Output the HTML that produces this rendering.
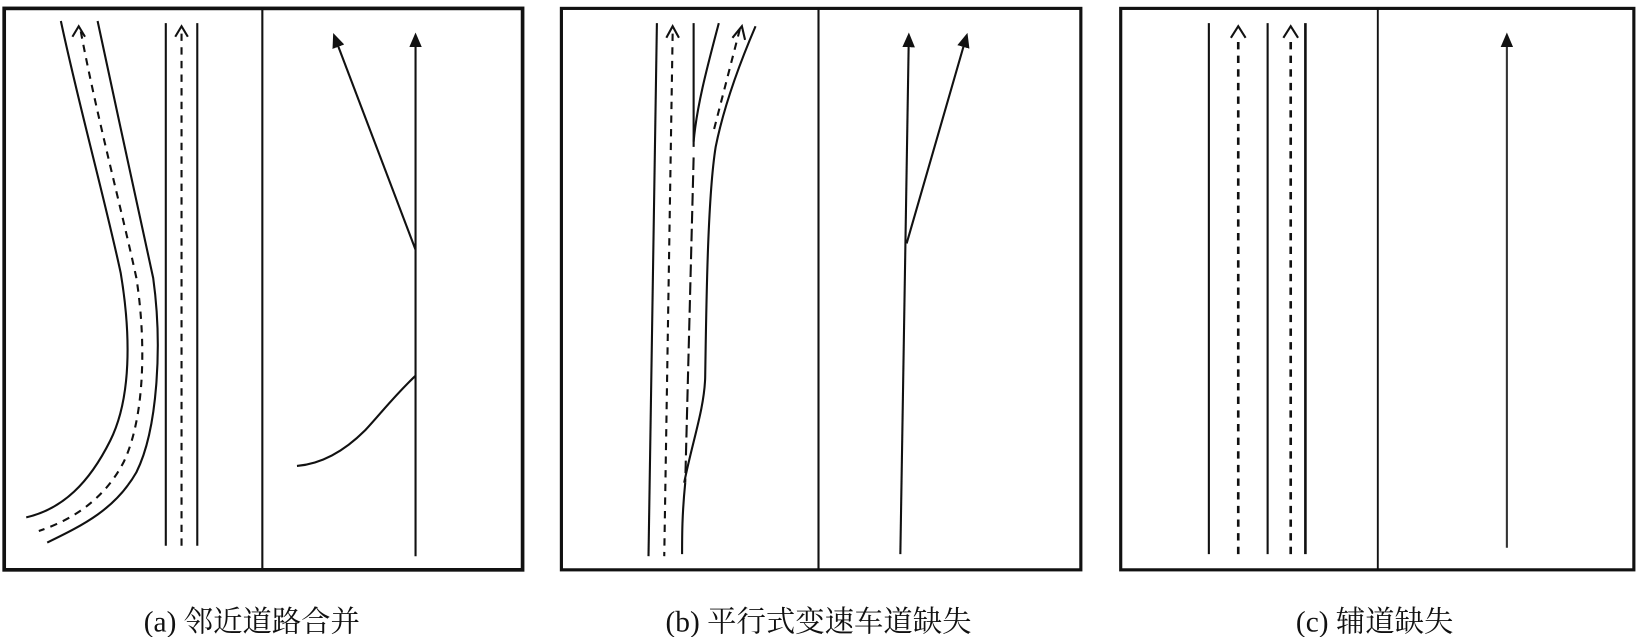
<!DOCTYPE html>
<html><head><meta charset="utf-8"><style>
html,body{margin:0;padding:0;background:#fff;width:1637px;height:637px;overflow:hidden}
svg{display:block}
text{font-family:"Liberation Serif","Noto Serif CJK SC",serif;font-size:28px;fill:#111}
</style></head><body>
<svg width="1637" height="637" viewBox="0 0 1560 607" preserveAspectRatio="none" xmlns="http://www.w3.org/2000/svg">
<defs>
<marker id="tri" markerWidth="14" markerHeight="12" refX="7" refY="6" orient="auto" markerUnits="userSpaceOnUse">
<path d="M0,0 L14,6 L0,12 Z" fill="#111"/></marker>
</defs>
<g fill="none" stroke="#111" stroke-width="2">
<!-- Panel a -->
<rect x="4" y="8" width="494" height="535" stroke-width="3.5"/>
<line x1="250" y1="8" x2="250" y2="543"/>
<path d="M58,20 C75,100 100,190 115,260 C125,320 125,380 105,420 C85,460 60,485 25,493"/>
<path d="M93,20 C110,100 132,200 146,265 C155,330 150,410 130,450 C110,485 80,500 45,517"/>
<path d="M77,30 C92,110 116,200 130,265 C140,330 137,400 118,440 C100,475 70,495 37,506" stroke-dasharray="7,6"/>
<path d="M69,35 L75,25 L81,35"/>
<line x1="158" y1="22" x2="158" y2="520"/>
<line x1="188" y1="22" x2="188" y2="520"/>
<line x1="173" y1="32" x2="173" y2="520" stroke-dasharray="7,6"/>
<path d="M167,35 L173,25 L179,35"/>
<line x1="396" y1="530" x2="396" y2="38" marker-end="url(#tri)"/>
<line x1="396" y1="238" x2="320" y2="38" marker-end="url(#tri)"/>
<path d="M396,358 C375,378 362,395 348,410 C330,428 308,442 283,444"/>
<!-- Panel b -->
<rect x="535" y="8" width="495" height="535" stroke-width="3"/>
<line x1="780" y1="8" x2="780" y2="543"/>
<line x1="626" y1="22" x2="618" y2="530"/>
<line x1="641" y1="32" x2="633" y2="530" stroke-dasharray="7,6"/>
<path d="M635,36 L641,25 L647,36"/>
<line x1="661" y1="22" x2="661" y2="140"/>
<line x1="661" y1="150" x2="653" y2="460" stroke-dasharray="12,5"/>
<path d="M653,460 C650,490 650,510 650,528"/>
<path d="M661,135 C664,100 675,60 685,22"/>
<path d="M720,25 C705,60 690,100 682,140 C674,190 673,300 672,360 C671,390 660,420 652,460"/>
<line x1="705" y1="28" x2="680" y2="125" stroke-dasharray="7,6"/>
<path d="M698,36 L707,25 L710,38"/>
<line x1="858" y1="528" x2="866" y2="38" marker-end="url(#tri)"/>
<line x1="864" y1="232" x2="920" y2="38" marker-end="url(#tri)"/>
<!-- Panel c -->
<rect x="1068" y="8" width="489" height="535" stroke-width="3"/>
<line x1="1313" y1="8" x2="1313" y2="543" stroke-width="1.8"/>
<line x1="1152" y1="22" x2="1152" y2="528"/>
<line x1="1208" y1="22" x2="1208" y2="528"/>
<line x1="1244" y1="22" x2="1244" y2="528" stroke-width="2.5"/>
<line x1="1180" y1="40" x2="1180" y2="528" stroke-dasharray="7,6" stroke-width="2.5"/>
<line x1="1230" y1="40" x2="1230" y2="528" stroke-dasharray="7,6" stroke-width="2.5"/>
<path d="M1173,36 L1180,25 L1187,36"/>
<path d="M1223,36 L1230,25 L1237,36"/>
<line x1="1436" y1="522" x2="1436" y2="38" marker-end="url(#tri)" stroke="#333"/>
</g>
<text x="240" y="602" text-anchor="middle">(a) 邻近道路合并</text>
<text x="780" y="602" text-anchor="middle">(b) 平行式变速车道缺失</text>
<text x="1310" y="602" text-anchor="middle">(c) 辅道缺失</text>
</svg>
</body></html>
